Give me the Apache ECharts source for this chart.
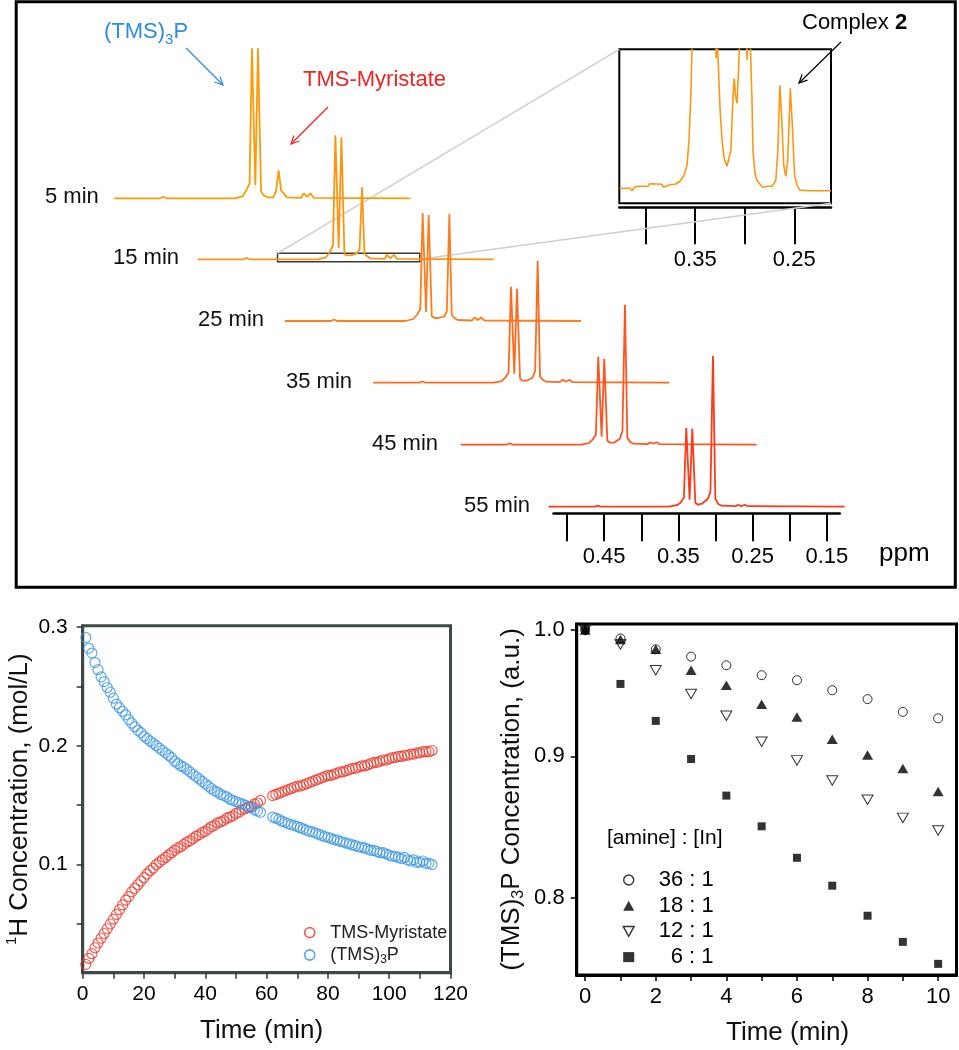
<!DOCTYPE html>
<html><head><meta charset="utf-8">
<script src="https://cdn.jsdelivr.net/npm/echarts@6/dist/echarts.min.js"></script>
<style>html,body{margin:0;padding:0;background:#fff}#c{width:959px;height:1050px}</style>
</head><body><div id="c"></div>
<script>
const FONT = "'Liberation Sans', Arial, Helvetica, sans-serif";

// ---------- Top panel: stacked 1H NMR spectra ----------
const traceLabels = ['5 min', '15 min', '25 min', '35 min', '45 min', '55 min'];
const spectrumPpm = [0.525, 0.463, 0.459, 0.455, 0.363, 0.3525, 0.3476, 0.3431, 0.3399, 0.3354, 0.3318, 0.3277, 0.3242,
  0.3189, 0.3108, 0.3074, 0.3040, 0.3008, 0.2973, 0.2927, 0.2737, 0.2704, 0.2658, 0.2613, 0.2569, 0.127];
const int5  = [0, 0, 1.5, 0, 0, 2, 8, 15, 150, 13, 150, 6.5, 3, 1, 1, 8, 28, 8, 5, 1, 0.5, 5, 1.5, 5, 0.5, 0];
const int15 = [0, 0, 1.5, 0, 0, 2, 7, 14, 124, 11, 122, 5, 4, 4, 6, 10, 72, 6, 3, 1, 0.5, 4.5, 1, 4.5, 0.5, 0];
const int25 = [0, 0, 1.5, 0, 0, 2, 6, 12, 108, 9, 106, 5, 3, 3, 4.5, 10, 107, 6, 3, 1, 0.5, 3.5, 1, 3.5, 0.5, 0];
const int35 = [0, 0, 1.5, 0, 0, 1.5, 5, 10, 96, 9, 94, 4, 2, 2, 5, 12, 122, 6, 3, 1, 0.5, 3, 1, 3, 0.5, 0];
const int45 = [0, 0, 1.5, 0, 0, 1.5, 5, 10, 88, 8, 86, 4, 2, 2, 6, 14, 140, 7, 3, 1, 0.5, 2.5, 1, 2.5, 0.5, 0];
const int55 = [0, 0, 1, 0, 0, 1.5, 4, 9, 79, 7, 78, 4, 2, 3, 8, 15, 151, 8, 3, 1, 0.5, 2, 0.5, 2, 0.5, 0];
const traceIntensities = [int5, int15, int25, int35, int45, int55];
const traceColors = ['#FF9A05', '#FF9410', '#FF7D1C', '#FF6B1E', '#FF5521', '#FF3A18'];
const ppmTicks = [0.50, 0.45, 0.40, 0.35, 0.30, 0.25, 0.20, 0.15];
const ppmLabels = [0.45, 0.35, 0.25, 0.15];

// inset (zoom of the 15 min spectrum)
const insetPpm = [0.4265,0.4159,0.4138,0.4118,0.4088,0.3977,0.3962,0.3835,0.3820,0.3755,0.3704,0.3654,0.3613,0.3583,0.3563,
  0.3543,0.3523,0.3462,0.3401,0.3340,0.3300,0.3290,0.3280,0.3265,0.3249,0.3229,0.3209,0.3179,0.3160,0.3140,0.3120,0.3107,
  0.3093,0.3078,0.3063,0.3048,0.3017,0.2988,0.2977,0.2967,0.2947,0.2927,0.2917,0.2897,0.2877,0.2847,0.2817,0.2766,0.2726,
  0.2686,0.2666,0.2645,0.2626,0.2606,0.2586,0.2566,0.2540,0.2517,0.2497,0.2472,0.2442,0.2411,0.2391,0.2361,0.2129];
const insetInt = [15,15,12.5,15.5,17,17,19.5,19,16,18.5,19,22,28,38,63,113,200,500,300,500,200,145,170,133,93,63,45,37,37,
  53,103,125,108,100,133,170,500,200,143,200,170,103,53,30,23,19,16,17,17,23,53,118,83,38,27,43,115,73,28,18,13,13,15,12.5,12.5];
const insetTicks = [0.40, 0.35, 0.30, 0.25];
const insetLabels = [0.35, 0.25];

// ---------- Bottom left: concentration vs time ----------
const kinTime = [1,2,3,4,5,6,7,8,9,10,11,12,13,14,15,16,17,18,19,20,21,22,23,24,25,26,27,28,29,30,31,32,33,34,35,36,37,38,39,40,
  41,42,43,44,45,46,47,48,49,50,51,52,53,54,55,56,57,58,
  62,63,64,65,66,67,68,69,70,71,72,73,74,75,76,77,78,79,80,81,82,83,84,85,86,87,88,89,90,91,92,93,94,95,96,97,98,99,100,
  101,102,103,104,105,106,107,108,109,110,111,112,113,114];
const myristate = [0.016,0.021,0.025,0.030,0.034,0.038,0.042,0.046,0.050,0.054,0.058,0.062,0.066,0.070,0.073,0.077,0.080,0.083,
  0.086,0.089,0.092,0.095,0.097,0.100,0.102,0.104,0.106,0.108,0.110,0.112,0.114,0.115,0.117,0.119,0.120,0.122,0.124,0.125,0.127,
  0.128,0.130,0.132,0.133,0.135,0.136,0.137,0.139,0.140,0.141,0.143,0.144,0.146,0.147,0.148,0.149,0.151,0.152,0.154,
  0.158,0.159,0.160,0.161,0.162,0.163,0.164,0.165,0.166,0.166,0.167,0.168,0.169,0.170,0.171,0.172,0.173,0.174,0.175,0.175,0.176,
  0.177,0.178,0.178,0.179,0.180,0.181,0.181,0.182,0.183,0.183,0.184,0.185,0.186,0.186,0.187,0.188,0.188,0.189,0.190,0.190,0.191,
  0.191,0.192,0.192,0.193,0.193,0.194,0.194,0.195,0.195,0.195,0.196];
const tmsP = [0.291,0.282,0.278,0.270,0.264,0.258,0.254,0.249,0.245,0.240,0.235,0.232,0.229,0.226,0.222,0.219,0.216,0.213,0.211,
  0.208,0.206,0.204,0.202,0.200,0.198,0.196,0.194,0.192,0.190,0.187,0.185,0.183,0.182,0.180,0.178,0.176,0.174,0.172,0.170,0.168,
  0.166,0.164,0.162,0.161,0.159,0.158,0.157,0.155,0.154,0.153,0.152,0.151,0.150,0.149,0.148,0.146,0.145,0.144,
  0.140,0.139,0.138,0.1365,0.1355,0.1345,0.1335,0.133,0.132,0.131,0.130,0.129,0.128,0.1275,0.1265,0.1255,0.1245,0.1235,0.123,
  0.122,0.121,0.1205,0.1195,0.119,0.118,0.1175,0.1165,0.116,0.115,0.1145,0.114,0.113,0.112,0.112,0.111,0.110,0.110,0.109,0.108,
  0.107,0.107,0.106,0.105,0.106,0.104,0.103,0.104,0.102,0.102,0.103,0.101,0.101,0.100];
const leftXTicks = [0,10,20,30,40,50,60,70,80,90,100,110,120];
const leftXLabels = [0,20,40,60,80,100,120];
const leftYTicks = [0.05,0.10,0.15,0.20,0.25,0.30];
const leftYLabels = [0.1,0.2,0.3];

// ---------- Bottom right: (TMS)3P vs time for amine ratios ----------
const ratioTime = [0,1,2,3,4,5,6,7,8,9,10];
const r36 = [1.000,0.993,0.984,0.978,0.971,0.963,0.959,0.951,0.944,0.934,0.929];
const r18 = [1.000,0.992,0.984,0.967,0.955,0.940,0.930,0.913,0.901,0.891,0.874];
const r12 = [1.000,0.988,0.967,0.948,0.931,0.911,0.897,0.882,0.868,0.855,0.846];
const r6  = [1.000,0.956,0.927,0.898,0.871,0.849,0.827,0.808,0.788,0.771,0.757];
const rightXTicks = [0,1,2,3,4,5,6,7,8,9,10];
const rightXLabels = [0,2,4,6,8,10];
const rightYTicks = [0.8,0.9,1.0];

// ---------- layout ----------
const traceLeft = [114.3, 197.7, 285, 373.3, 460.6, 548.6];
const traceBase = [198.3, 259.3, 321, 382.7, 444.7, 506.7];
const traceLabelLeft = [45, 113, 198, 286, 372, 464];
const TRACE_W = 296;
const zoomBox = [0.4177, 0.2264, -2.4, 6]; // ppm from, ppm to, y from, y to (15 min trace)
const DOWN_TRI = 'path://M0,0L10,0L5,9Z';

const grids = [], xAxes = [], yAxes = [], series = [];
traceLeft.forEach((l, i) => {
  grids.push({left: l, top: traceBase[i] - 160, width: TRACE_W, height: 170, outerBoundsMode: 'none'});
  xAxes.push({type: 'value', gridIndex: i, min: 0.127, max: 0.525, inverse: true, show: false});
  yAxes.push({type: 'value', gridIndex: i, min: -10, max: 160, show: false});
  const s = {type: 'line', name: traceLabels[i], xAxisIndex: i, yAxisIndex: i,
    data: spectrumPpm.map((p, k) => [p, traceIntensities[i][k]]),
    symbol: 'none', showSymbol: false, silent: true, clip: false, z: 3,
    lineStyle: {color: traceColors[i], width: 1.8}, itemStyle: {color: traceColors[i]}};
  if (i === 1) {
    s.markArea = {silent: true, itemStyle: {color: 'rgba(0,0,0,0)', borderColor: '#3a3a3a', borderWidth: 1.5},
      data: [[{coord: [zoomBox[0], zoomBox[2]]}, {coord: [zoomBox[1], zoomBox[3]]}]]};
  }
  series.push(s);
});
const tickLbl = {color: '#000', fontFamily: FONT};

// grid 6: ppm axis
grids.push({left: 553.5, top: 500, width: 286.3, height: 13.3, outerBoundsMode: 'none'});
xAxes.push({type: 'value', gridIndex: 6, min: 0.1326, max: 0.5182, inverse: true,
  axisLine: {show: true, onZero: false, lineStyle: {color: '#000', width: 2.5}},
  axisTick: {show: true, length: 28, customValues: ppmTicks, lineStyle: {color: '#000', width: 2}},
  axisLabel: Object.assign({customValues: ppmLabels, margin: 33, fontSize: 22, formatter: v => v.toFixed(2)}, tickLbl),
  splitLine: {show: false}});
yAxes.push({type: 'value', gridIndex: 6, min: 0, max: 1, show: false});

// grid 7: inset
grids.push({left: 619.3, top: 49.3, width: 211.7, height: 154, show: true, borderColor: '#000', borderWidth: 2,
  backgroundColor: 'rgba(0,0,0,0)', outerBoundsMode: 'none'});
xAxes.push({type: 'value', gridIndex: 7, min: 0.2129, max: 0.4267, inverse: true, offset: 4.4,
  axisLine: {show: true, onZero: false, lineStyle: {color: '#000', width: 2.5}},
  axisTick: {show: true, length: 36.5, customValues: insetTicks, lineStyle: {color: '#000', width: 2}},
  axisLabel: Object.assign({customValues: insetLabels, margin: 41, fontSize: 22, formatter: v => v.toFixed(2)}, tickLbl),
  splitLine: {show: false}});
yAxes.push({type: 'value', gridIndex: 7, min: 0, max: 154, show: false});
series.push({type: 'line', name: 'inset', xAxisIndex: 7, yAxisIndex: 7,
  data: insetPpm.map((p, k) => [p, insetInt[k]]), symbol: 'none', showSymbol: false, silent: true, clip: true, z: 3,
  lineStyle: {color: '#FF9712', width: 1.6}});

// grid 8: bottom-left kinetics
const LC = '#3f4949';
grids.push({left: 82.7, top: 625.7, width: 367.8, height: 347, show: true, borderColor: LC, borderWidth: 3,
  backgroundColor: 'rgba(0,0,0,0)', outerBoundsMode: 'none'});
xAxes.push({type: 'value', gridIndex: 8, min: 0, max: 120,
  axisLine: {show: true, onZero: false, lineStyle: {color: LC, width: 3}},
  axisTick: {show: true, length: 6, customValues: leftXTicks, lineStyle: {color: '#333', width: 1.5}},
  axisLabel: Object.assign({customValues: leftXLabels, margin: 11, fontSize: 21}, tickLbl),
  splitLine: {show: false},
  name: 'Time (min)', nameLocation: 'middle', nameGap: 45,
  nameTextStyle: {fontSize: 26, color: '#111', fontFamily: FONT, padding: [0, 10, 0, 0]}});
yAxes.push({type: 'value', gridIndex: 8, min: 0.009, max: 0.301,
  axisLine: {show: true, onZero: false, lineStyle: {color: LC, width: 3}},
  axisTick: {show: true, length: 6, customValues: leftYTicks, lineStyle: {color: '#333', width: 1.5}},
  axisLabel: Object.assign({customValues: leftYLabels, margin: 15, fontSize: 21, formatter: v => v.toFixed(1)}, tickLbl),
  splitLine: {show: false},
  name: '{sup|1}H Concentration, (mol/L)', nameLocation: 'middle', nameGap: 46, nameRotate: 90,
  nameTextStyle: {fontSize: 26, color: '#111', fontFamily: FONT, lineHeight: 30,
    rich: {sup: {fontSize: 15, verticalAlign: 'top', fontFamily: FONT, color: '#111'}}}});
const RED = '#EE3A2C', BLUE = '#3A96EA';
series.push({type: 'scatter', name: 'TMS-Myristate', xAxisIndex: 8, yAxisIndex: 8, symbol: 'circle', symbolSize: 10,
  data: kinTime.map((t, i) => [t, myristate[i]]), z: 4,
  itemStyle: {color: 'rgba(0,0,0,0)', borderColor: RED, borderWidth: 1.2}});
series.push({type: 'scatter', name: '(TMS)3P', xAxisIndex: 8, yAxisIndex: 8, symbol: 'circle', symbolSize: 10,
  data: kinTime.map((t, i) => [t, tmsP[i]]), z: 4,
  itemStyle: {color: 'rgba(0,0,0,0)', borderColor: BLUE, borderWidth: 1.2}});

// grid 9: bottom-right ratios (log axis)
grids.push({left: 576.7, top: 624, width: 379.8, height: 351, show: true, borderColor: '#000', borderWidth: 3,
  backgroundColor: 'rgba(0,0,0,0)', outerBoundsMode: 'none'});
xAxes.push({type: 'value', gridIndex: 9, min: -0.24, max: 10.52,
  axisLine: {show: true, onZero: false, lineStyle: {color: '#000', width: 3}},
  axisTick: {show: true, length: 6, customValues: rightXTicks, lineStyle: {color: '#000', width: 1.5}},
  axisLabel: Object.assign({customValues: rightXLabels, margin: 11, fontSize: 22}, tickLbl),
  splitLine: {show: false},
  name: 'Time (min)', nameLocation: 'middle', nameGap: 45,
  nameTextStyle: {fontSize: 26, color: '#111', fontFamily: FONT, padding: [0, 0, 0, 42]}});
yAxes.push({type: 'log', logBase: 10, gridIndex: 9, min: 0.75, max: 1.005,
  axisLine: {show: true, onZero: false, lineStyle: {color: '#000', width: 3}},
  axisTick: {show: true, length: 6, customValues: rightYTicks, lineStyle: {color: '#000', width: 1.5}},
  axisLabel: Object.assign({customValues: rightYTicks, margin: 12, fontSize: 22, formatter: v => Number(v).toFixed(1)}, tickLbl),
  splitLine: {show: false}, minorTick: {show: false},
  name: '(TMS){sub|3}P Concentration, (a.u.)', nameLocation: 'middle', nameGap: 50, nameRotate: 90,
  nameTextStyle: {fontSize: 26, color: '#111', fontFamily: FONT, lineHeight: 30,
    rich: {sub: {fontSize: 16, verticalAlign: 'bottom', fontFamily: FONT, color: '#111'}}}});
const blk = '#000';
series.push({type: 'scatter', name: '6 : 1', xAxisIndex: 9, yAxisIndex: 9, symbol: 'rect', symbolSize: 8,
  data: ratioTime.map((t, i) => [t, r6[i]]), z: 4, itemStyle: {color: blk}});
series.push({type: 'scatter', name: '12 : 1', xAxisIndex: 9, yAxisIndex: 9, symbol: DOWN_TRI, symbolSize: [11, 9.5],
  data: ratioTime.map((t, i) => [t, r12[i]]), z: 4, itemStyle: {color: 'rgba(0,0,0,0)', borderColor: blk, borderWidth: 1}});
series.push({type: 'scatter', name: '18 : 1', xAxisIndex: 9, yAxisIndex: 9, symbol: 'triangle', symbolSize: [11, 9.5],
  data: ratioTime.map((t, i) => [t, r18[i]]), z: 4, itemStyle: {color: blk}});
series.push({type: 'scatter', name: '36 : 1', xAxisIndex: 9, yAxisIndex: 9, symbol: 'circle', symbolSize: 9,
  data: ratioTime.map((t, i) => [t, r36[i]]), z: 4, itemStyle: {color: 'rgba(0,0,0,0)', borderColor: blk, borderWidth: 1}});

const option = {
  animation: false,
  backgroundColor: '#fff',
  textStyle: {fontFamily: FONT},
  grid: grids, xAxis: xAxes, yAxis: yAxes, series: series,
  legend: [
    {orient: 'vertical', left: 298.8, top: 916.7, itemWidth: 10, itemHeight: 10, itemGap: 0.3, selectedMode: false,
      data: [
        {name: 'TMS-Myristate', icon: 'circle', itemStyle: {color: 'rgba(0,0,0,0)', borderColor: RED, borderWidth: 1.8}},
        {name: '(TMS)3P', icon: 'circle', itemStyle: {color: 'rgba(0,0,0,0)', borderColor: BLUE, borderWidth: 1.8}}],
      formatter: n => n === '(TMS)3P' ? '(TMS){sub|3}P' : n,
      textStyle: {fontSize: 18, lineHeight: 22, color: '#222', fontFamily: FONT, padding: [0, 0, 0, 10.5],
        rich: {sub: {fontSize: 12, verticalAlign: 'bottom', fontFamily: FONT, color: '#222'}}}},
    {orient: 'vertical', left: 617.5, top: 864, itemWidth: 11, itemHeight: 10, itemGap: 3.7, selectedMode: false,
      data: [
        {name: '36 : 1', icon: 'circle', itemStyle: {color: 'rgba(0,0,0,0)', borderColor: blk, borderWidth: 1.4}},
        {name: '18 : 1', icon: 'triangle', itemStyle: {color: blk}},
        {name: '12 : 1', icon: DOWN_TRI, itemStyle: {color: 'rgba(0,0,0,0)', borderColor: blk, borderWidth: 1.4}},
        {name: '6 : 1', icon: 'rect', itemStyle: {color: blk}}],
      formatter: n => n === '6 : 1' ? '{p|6 : 1}' : n,
      textStyle: {fontSize: 22, lineHeight: 22, color: '#000', fontFamily: FONT, padding: [0, 0, 0, 19.5],
        rich: {p: {fontSize: 22, padding: [0, 0, 0, 12], fontFamily: FONT, color: '#000'}}}}
  ]
};

const chart = echarts.init(document.getElementById('c'), null, {renderer: 'canvas', width: 959, height: 1050});
chart.setOption(option);

function txt(x, y, text, size, color, extra) {
  return {type: 'text', x: x, y: y, z: 10, silent: true,
    style: Object.assign({text: text, fontSize: size, fontFamily: FONT, fill: color,
      align: 'left', verticalAlign: 'middle', textAlign: 'left', textVerticalAlign: 'middle'}, extra || {})};
}
function arrow(x1, y1, x2, y2, color, w) {
  const a = Math.atan2(y2 - y1, x2 - x1), L = 9, s = Math.PI / 7;
  return {type: 'group', silent: true, z: 10, children: [
    {type: 'line', z: 10, shape: {x1: x1, y1: y1, x2: x2, y2: y2}, style: {stroke: color, lineWidth: w}},
    {type: 'polyline', z: 10, shape: {points: [[x2 - L * Math.cos(a - s), y2 - L * Math.sin(a - s)], [x2, y2],
      [x2 - L * Math.cos(a + s), y2 - L * Math.sin(a + s)]]}, style: {stroke: color, lineWidth: w, fill: 'none'}}]};
}
const pBoxTL = chart.convertToPixel({gridIndex: 1}, [zoomBox[0], zoomBox[3]]);
const pBoxR = chart.convertToPixel({gridIndex: 1}, [zoomBox[1], 0]);
const pInTL = chart.convertToPixel({gridIndex: 7}, [0.4267, 154]);
const pInBR = chart.convertToPixel({gridIndex: 7}, [0.2129, 0]);

const els = [
  {type: 'rect', z: 10, silent: true, shape: {x: 16.2, y: 1.7, width: 939.1, height: 585.6},
    style: {fill: 'none', stroke: '#000', lineWidth: 3}},
  {type: 'line', z: 1, silent: true, shape: {x1: pBoxTL[0], y1: pBoxTL[1], x2: pInTL[0], y2: pInTL[1]},
    style: {stroke: '#cfcfcf', lineWidth: 1.5}},
  {type: 'line', z: 1, silent: true, shape: {x1: pBoxR[0], y1: pBoxR[1], x2: pInBR[0], y2: pInBR[1]},
    style: {stroke: '#cfcfcf', lineWidth: 1.5}},
  txt(104, 32, '(TMS){s|3}P', 22, '#2B8CEC', {lineHeight: 30,
    rich: {s: {fontSize: 15, verticalAlign: 'bottom', fontFamily: FONT, fill: '#2B8CEC'}}}),
  txt(303, 80, 'TMS-Myristate', 22, '#EC2620'),
  txt(802, 23, '{n|Complex }{b|2}', 22, '#000', {rich: {
    n: {fontSize: 22, fontFamily: FONT, fill: '#000'},
    b: {fontSize: 22, fontFamily: FONT, fill: '#000', fontWeight: 'bold'}}}),
  txt(879, 554, 'ppm', 26, '#000'),
  txt(607, 838, '[amine] : [In]', 21, '#000'),
  arrow(186, 48, 223, 85, '#2B8CEC', 1.2),
  arrow(328, 107, 291, 144, '#EC2620', 1.2),
  arrow(841, 42, 799, 83, '#000', 1.2)
];
traceLabels.forEach((t, i) => els.push(txt(traceLabelLeft[i], traceBase[i] - 1, t, 22, '#111')));
chart.setOption({graphic: {elements: els}});
</script></body></html>
